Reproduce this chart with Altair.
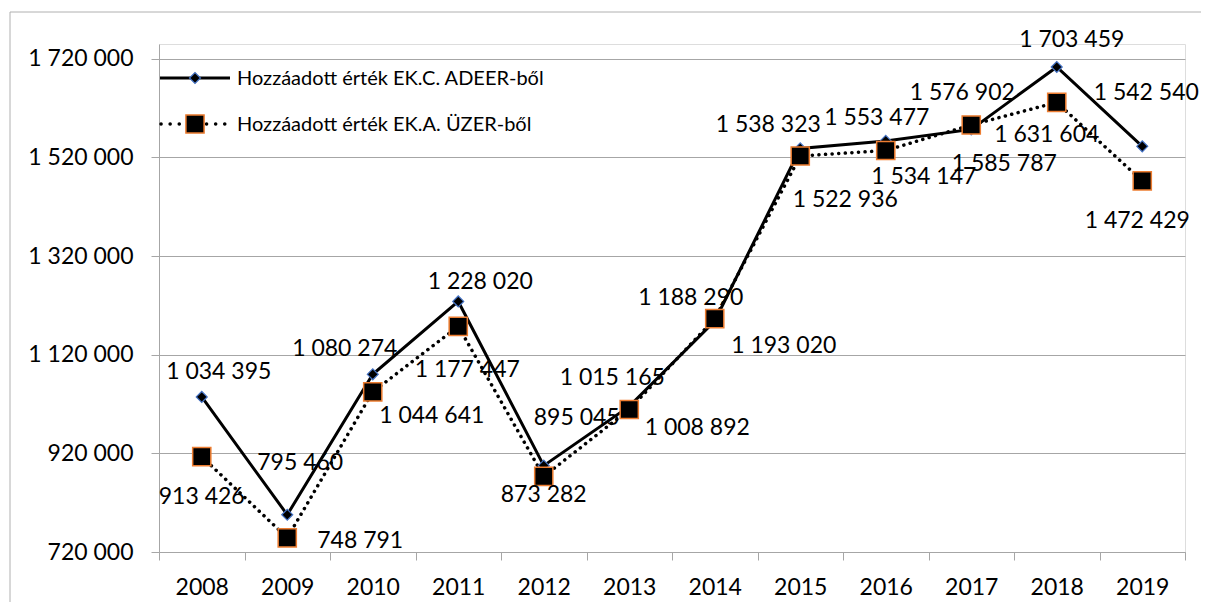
import altair as alt
import pandas as pd

# ---- data ----
years = [str(y) for y in range(2008, 2020)]
series_names = ["Hozzáadott érték EK.C. ADEER-ből", "Hozzáadott érték EK.A. ÜZER-ből"]
adeer = [1034395, 795460, 1080274, 1228020, 895045, 1015165, 1188290,
         1538323, 1553477, 1576902, 1703459, 1542540]
uzer = [913426, 748791, 1044641, 1177447, 873282, 1008892, 1193020,
        1522936, 1534147, 1585787, 1631604, 1472429]
y_ticks = [720000, 920000, 1120000, 1320000, 1520000, 1720000]

# ---- label placement (pixel offsets, style only) ----
adeer_dx = [17, 13, -28, 22, 33, -17, -24, -32, -9, -9, 15, 4]
adeer_dy = [-25, -52, -25, -19, -48, -28, -23, -23, -23, -36, -27, -53]
uzer_dx = [0, 73, 59, 9, 0, 68, 69, 45, 38, 33, -10, -5]
uzer_dy = [40, 3, 24, 44, 19, 18, 27, 44, 27, 39, 33, 40]


def fmt(v):
    return f"{v:,}".replace(",", " ")


df = pd.DataFrame({
    "year": years * 2,
    "series": [series_names[0]] * len(years) + [series_names[1]] * len(years),
    "value": adeer + uzer,
    "label": [fmt(v) for v in adeer + uzer],
    "dx": adeer_dx + uzer_dx,
    "dy": adeer_dy + uzer_dy,
})
s1 = df[df.series == series_names[0]]
s2 = df[df.series == series_names[1]]

FONT = "Lato"
FS = 23
LEG_FS = 20
GRAY = "#a6a6a6"

x_enc = alt.X(
    "year:O",
    scale=alt.Scale(type="band", paddingInner=0, paddingOuter=0),
    axis=alt.Axis(title=None, tickBand="extent", labelAngle=0, labelFont=FONT,
                  labelFontSize=FS, labelColor="black", tickColor=GRAY, tickSize=8,
                  domainColor=GRAY, labelPadding=16, grid=False),
)
y_enc = alt.Y(
    "value:Q",
    scale=alt.Scale(domain=[720000, 1750000], nice=False, zero=False),
    axis=alt.Axis(title=None, values=y_ticks, labelFont=FONT, labelFontSize=FS,
                  labelColor="black", tickColor=GRAY, tickSize=8, domainColor=GRAY,
                  gridColor=GRAY, grid=True, labelPadding=18,
                  labelExpr="replace(replace(format(datum.value, ','), ',', ' '), ',', ' ')"),
)

one = pd.DataFrame({"k": [0]})

frame = alt.Chart(one).mark_rect(fillOpacity=0, stroke="#b0b0b0", strokeWidth=1).encode(
    x=alt.value(-149), x2=alt.value(1060), y=alt.value(-32), y2=alt.value(576)
)

line1 = alt.Chart(s1).mark_line(color="black", strokeWidth=3).encode(x=x_enc, y=y_enc)
line2 = alt.Chart(s2).mark_line(color="black", strokeWidth=3.5, strokeDash=[0.1, 6.5],
                                strokeCap="round").encode(x=x_enc, y=y_enc)
pts1 = alt.Chart(s1).mark_point(shape="diamond", size=120, filled=True, fill="black",
                                stroke="#4472c4", strokeWidth=1.2, opacity=1).encode(x=x_enc, y=y_enc)
pts2 = alt.Chart(s2).mark_point(shape="square", size=330, filled=True, fill="black",
                                stroke="#ed7d31", strokeWidth=1.5, opacity=1).encode(x=x_enc, y=y_enc)
labels = alt.Chart(df).mark_text(font=FONT, fontSize=FS, color="black", baseline="middle",
                                 align="center", dx={"expr": "datum.dx"},
                                 dy={"expr": "datum.dy"}).encode(x=x_enc, y=y_enc, text="label:N")

# ---- manual legend ----
leg1 = pd.DataFrame({"name": [series_names[0]]})
leg2 = pd.DataFrame({"name": [series_names[1]]})
lg_line1 = alt.Chart(leg1).mark_rule(color="black", strokeWidth=3).encode(
    x=alt.value(1), x2=alt.value(71), y=alt.value(34))
lg_line2 = alt.Chart(leg2).mark_rule(color="black", strokeWidth=3.5, strokeDash=[0.1, 9],
                                     strokeCap="round").encode(
    x=alt.value(2), x2=alt.value(71), y=alt.value(80))
lg_pt1 = alt.Chart(leg1).mark_point(shape="diamond", size=120, filled=True, fill="black",
                                    stroke="#4472c4", strokeWidth=1.2, opacity=1).encode(
    x=alt.value(36), y=alt.value(34))
lg_pt2 = alt.Chart(leg2).mark_point(shape="square", size=330, filled=True, fill="black",
                                    stroke="#ed7d31", strokeWidth=1.5, opacity=1).encode(
    x=alt.value(36), y=alt.value(80))
lg_txt1 = alt.Chart(leg1).mark_text(font=FONT, fontSize=LEG_FS, color="black", align="left",
                                    baseline="middle").encode(
    x=alt.value(78), y=alt.value(35), text="name:N")
lg_txt2 = alt.Chart(leg2).mark_text(font=FONT, fontSize=LEG_FS, color="black", align="left",
                                    baseline="middle").encode(
    x=alt.value(78), y=alt.value(81), text="name:N")

chart = alt.layer(
    frame, line1, line2, pts1, pts2, labels,
    lg_line1, lg_line2, lg_pt1, lg_pt2, lg_txt1, lg_txt2,
).properties(
    width=1026, height=508,
    autosize=alt.AutoSizeParams(type="none"),
    padding={"left": 151, "top": 36, "right": 16, "bottom": 50},
).configure_view(stroke=None).configure(background="white")

chart.save("out.html", embed_options={"renderer": "svg", "actions": False})
